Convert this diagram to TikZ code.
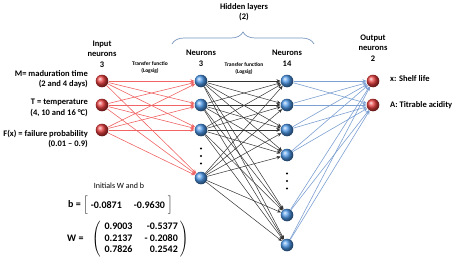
\documentclass[tikz,border=0pt]{standalone}
\usepackage{fontspec}
\setmainfont{Carlito}
\usetikzlibrary{arrows.meta,positioning,decorations.pathreplacing,shadings}
\definecolor{vermelhoRede}{RGB}{230,60,60}
\definecolor{azulRede}{RGB}{75,150,230}
\definecolor{vermelhoLig}{RGB}{240,100,100}
\definecolor{azulLig}{RGB}{125,160,210}
\definecolor{cinzaChave}{RGB}{120,150,190}
\tikzset{
  neuronio/.style={circle, minimum size=12.6pt, inner sep=0pt, shading=ball},
  entrada/.style={neuronio, ball color=vermelhoRede},
  oculto/.style={neuronio, ball color=azulRede},
  saida/.style={neuronio, ball color=vermelhoRede},
  rotulo/.style={font=\bfseries\fontsize{8.5}{10.5}\selectfont, align=center, inner sep=0pt},
  rotulopeq/.style={font=\bfseries\fontsize{5.5}{7}\selectfont, align=center, inner sep=0pt},
  matriz/.style={font=\bfseries\fontsize{10}{11.5}\selectfont, inner sep=0pt},
  setavermelha/.style={-{Stealth[length=4pt,width=3.5pt]}, line width=0.6pt, vermelhoLig},
  setapreta/.style={-{Stealth[length=4pt,width=3.5pt]}, line width=0.5pt, black!80},
  setaazul/.style={-{Stealth[length=4pt,width=3.5pt]}, line width=0.6pt, azulLig},
  chave/.style={decorate, decoration={brace, amplitude=12pt}, line width=0.7pt, cinzaChave},
}
\begin{document}
\begin{tikzpicture}[x=1pt, y=-1pt]
  \useasboundingbox (0,0) rectangle (462,265);
  % camadas
  \foreach \i/\y in {1/81,2/105,3/130} \node[entrada] (e\i) at (102,\y) {};
  \foreach \i/\y in {1/81,2/105,3/130,4/178} \node[oculto] (h\i) at (201,\y) {};
  \foreach \i/\y in {1/81,2/105,3/130,4/155,5/215,6/245} \node[oculto] (k\i) at (287,\y) {};
  \foreach \i/\y in {1/81,2/105} \node[saida] (s\i) at (373,\y) {};
  \coordinate (pontosA) at (201,156);
  \coordinate (pontosB) at (287,181);
  \foreach \d in {-7.5,0,7.5} {
    \fill (pontosA) ++(0,\d) circle (1.2);
    \fill (pontosB) ++(0,\d) circle (1.2);
  }
  % ligacoes
  \foreach \i in {1,2,3} \foreach \j in {1,...,4} \draw[setavermelha] (e\i) -- (h\j);
  \foreach \i in {1,...,4} \foreach \j in {1,...,6} \draw[setapreta] (h\i) -- (k\j);
  \foreach \i in {1,...,6} \foreach \j in {1,2} \draw[setaazul] (k\i) -- (s\j);
  % titulos das camadas
  \node[rotulo, above=7pt of e1] (tEntrada) {Input\\neurons\\3};
  \node[rotulo, above=8pt of h1] (tOculta1) {Neurons\\3};
  \node[rotulo, above=8pt of k1] (tOculta2) {Neurons\\14};
  \node[rotulo, above=13pt of s1] (tSaida) {Output\\neurons\\2};
  \node[rotulo] (tOcultas) at (244,12) {Hidden layers\\(2)};
  \draw[chave] (172,44) -- (314,44);
  \node[rotulopeq] (tf1) at (150,68) {Transfer functio\\(Logsig)};
  \node[rotulopeq] (tf2) at (244,69) {Transfer function\\(Logsig)};
  % variaveis
  \node[rotulo, align=right, anchor=east] (vM) at (88,79) {M= maduration time\\(2 and 4 days)};
  \node[rotulo, align=right, anchor=east] (vT) at (88,108) {T = temperature\\(4, 10 and 16 °C)};
  \node[rotulo, align=right, anchor=east] (vF) at (88,139) {F(x) = failure probability\\(0.01 – 0.9)};
  \node[rotulo, anchor=west] (vx) at (390,79) {x: Shelf life};
  \node[rotulo, anchor=west] (vA) at (390,105) {A: Titrable acidity};
  % pesos iniciais
  \node[font=\fontsize{8}{9}\selectfont, inner sep=0pt] (iniciais) at (119,186) {Initials W and b};
  \node[matriz, anchor=west] (vetorb) at (68,205)
    {b = $\left[\begin{tabular}{@{\hspace{3pt}}rr@{\hspace{3pt}}}\rule[-4pt]{0pt}{14pt}-0.0871 & -0.9630\end{tabular}\right]$};
  \node[matriz, anchor=west] (matrizW) at (67,239)
    {W = \hspace{6pt}$\left(\begin{tabular}{@{\hspace{4pt}}rr@{\hspace{2pt}}}0.9003 & -0.5377\\0.2137 & - 0.2080\\0.7826 & 0.2542\end{tabular}\right)$};
\end{tikzpicture}
\end{document}
